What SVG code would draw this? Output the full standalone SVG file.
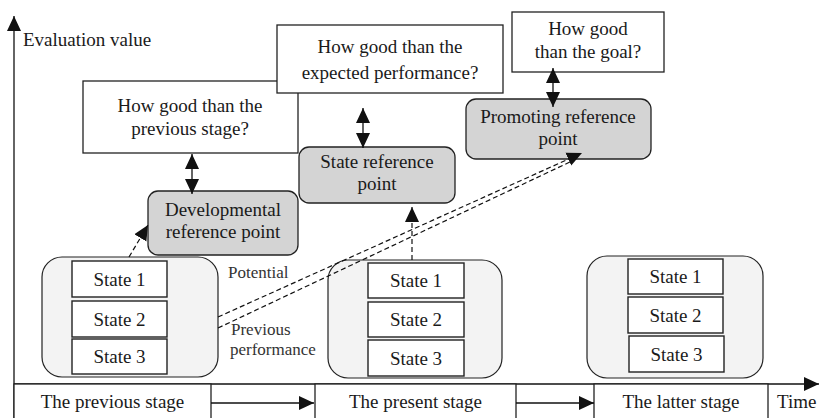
<svg xmlns="http://www.w3.org/2000/svg" width="819" height="418" viewBox="0 0 819 418" font-family="'Liberation Serif', Tinos, 'Noto Serif', 'DejaVu Serif', serif">
<defs>
<marker id="ah" markerUnits="userSpaceOnUse" markerWidth="15" markerHeight="15" refX="15" refY="7" orient="auto-start-reverse" viewBox="0 0 15 14">
<path d="M0,0 L15,7 L0,14 z" fill="#111"/>
</marker>
<style>
text{font-family:'Liberation Serif',Tinos,'Noto Serif','DejaVu Serif',serif;font-size:19px;fill:#1a1a1a;text-anchor:middle}
.q{fill:#fff;stroke:#222;stroke-width:1.3}
.rp{fill:#d4d4d4;stroke:#222;stroke-width:1.3}
.grp{fill:#f3f3f3;stroke:#222;stroke-width:1.2}
.st{fill:#fff;stroke:#222;stroke-width:1.4}
.ln{fill:none;stroke:#111;stroke-width:1.3}
.da{fill:none;stroke:#111;stroke-width:1.2;stroke-dasharray:5 3}
.lbl{font-size:17px;text-anchor:start;fill:#333}
</style>
</defs>

<g id="axes">
<line class="ln" x1="14" y1="418" x2="14" y2="16" marker-end="url(#ah)"/>
<text x="23" y="46" style="text-anchor:start">Evaluation value</text>
<line class="ln" x1="14" y1="384" x2="819" y2="384" marker-end="url(#ah)"/>
<text x="777" y="408" style="text-anchor:start">Time</text>
</g>

<g id="q-previous">
<rect class="q" x="83" y="81" width="215" height="72"/>
<text x="190" y="112">How good than the</text>
<text x="190" y="135">previous stage?</text>
</g>
<g id="q-expected">
<rect class="q" x="277" y="25" width="226" height="68"/>
<text x="390" y="53">How good than the</text>
<text x="390" y="79">expected performance?</text>
</g>
<g id="q-goal">
<rect class="q" x="512" y="12" width="152" height="60"/>
<text x="588" y="35">How good</text>
<text x="588" y="58">than the goal?</text>
</g>

<g id="rp-developmental">
<rect class="rp" x="148" y="191" width="150" height="64" rx="10"/>
<text x="223" y="216">Developmental</text>
<text x="223" y="238">reference point</text>
</g>
<g id="rp-state">
<rect class="rp" x="299" y="147" width="156" height="56" rx="10"/>
<text x="377" y="168">State reference</text>
<text x="377" y="190">point</text>
</g>
<g id="rp-promoting">
<rect class="rp" x="466" y="99" width="185" height="60" rx="10"/>
<text x="558" y="123">Promoting reference</text>
<text x="558" y="145">point</text>
</g>

<g id="states-previous">
<rect class="grp" x="42" y="257" width="176" height="120" rx="20"/>
<rect class="st" x="72" y="261" width="95" height="36"/>
<text x="119.5" y="285.5">State 1</text>
<rect class="st" x="72" y="301" width="95" height="36"/>
<text x="119.5" y="325.5">State 2</text>
<rect class="st" x="72" y="339" width="95" height="35"/>
<text x="119.5" y="363">State 3</text>
</g>
<g id="states-present">
<rect class="grp" x="328" y="260" width="174" height="118" rx="20"/>
<rect class="st" x="368" y="263" width="96" height="35"/>
<text x="416" y="287">State 1</text>
<rect class="st" x="368" y="302" width="96" height="35"/>
<text x="416" y="326">State 2</text>
<rect class="st" x="368" y="340" width="96" height="36"/>
<text x="416" y="364.5">State 3</text>
</g>
<g id="states-latter">
<rect class="grp" x="587" y="256" width="176" height="122" rx="20"/>
<rect class="st" x="628" y="259" width="95" height="35"/>
<text x="675.5" y="283">State 1</text>
<rect class="st" x="628" y="297" width="95" height="36"/>
<text x="675.5" y="321.5">State 2</text>
<rect class="st" x="629" y="336" width="95" height="36"/>
<text x="676.5" y="360.5">State 3</text>
</g>

<g id="stage-previous">
<rect class="q" x="14" y="384" width="197" height="40"/>
<text x="112.5" y="408">The previous stage</text>
</g>
<g id="stage-present">
<rect class="q" x="315" y="384" width="201" height="40"/>
<text x="415.5" y="408">The present stage</text>
</g>
<g id="stage-latter">
<rect class="q" x="594" y="384" width="174" height="40"/>
<text x="681" y="408">The latter stage</text>
</g>

<g id="connectors">
<line class="ln" x1="192" y1="154" x2="192" y2="194" marker-start="url(#ah)" marker-end="url(#ah)"/>
<line class="ln" x1="363" y1="108" x2="363" y2="148" marker-start="url(#ah)" marker-end="url(#ah)"/>
<line class="ln" x1="553" y1="68" x2="553" y2="107" marker-start="url(#ah)" marker-end="url(#ah)"/>
<line class="da" x1="129" y1="257" x2="148" y2="225" marker-end="url(#ah)"/>
<line class="da" x1="412" y1="260" x2="412" y2="207" marker-end="url(#ah)"/>
<line class="da" x1="218" y1="317" x2="582" y2="153" marker-end="url(#ah)"/>
<line class="da" x1="218" y1="328" x2="570" y2="162"/>
<line class="ln" x1="211" y1="403" x2="314" y2="403" marker-end="url(#ah)"/>
<line class="ln" x1="516" y1="403" x2="594" y2="403" marker-end="url(#ah)"/>
<text class="lbl" x="228" y="278">Potential</text>
<text class="lbl" x="231" y="335">Previous</text>
<text class="lbl" x="230" y="355">performance</text>
</g>
</svg>
